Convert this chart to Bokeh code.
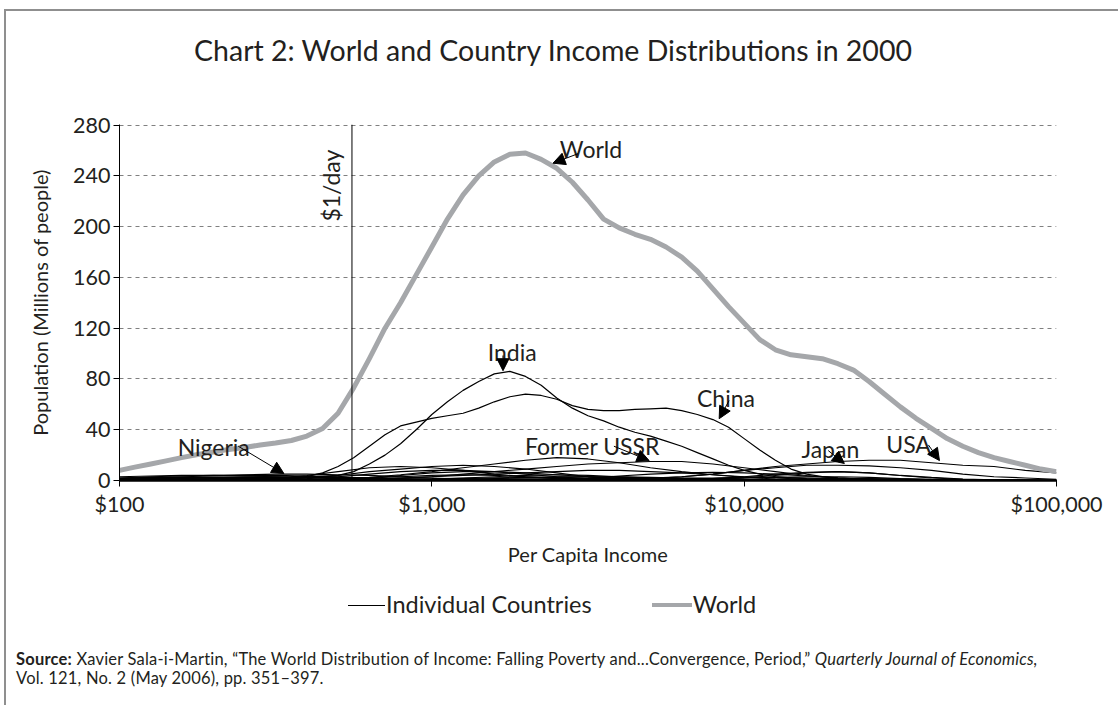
import math
from bokeh.plotting import figure
from bokeh.layouts import column
from bokeh.models import (FixedTicker, NumeralTickFormatter, Span, Label, Arrow,
                          NormalHead, Div)
from bokeh.embed import file_html
from bokeh.resources import INLINE

# ---------------- data ----------------
# fine income grid (used for the World, India and China curves)
income_fine = [100, 112, 126, 141, 158, 178, 200, 224, 251, 282, 316, 355, 398, 447,
               501, 562, 631, 708, 794, 891, 1000, 1122, 1259, 1413, 1585, 1778, 1995,
               2239, 2512, 2818, 3162, 3548, 3981, 4467, 5012, 5623, 6310, 7079, 7943,
               8913, 10000, 11220, 12589, 14125, 15849, 17783, 19953, 22387, 25119,
               28184, 31623, 35481, 39811, 44668, 50119, 56234, 63096, 70795, 79433,
               89125, 100000]
# coarse income grid (other countries)
income = [100, 126, 158, 200, 251, 316, 398, 501, 631, 794, 1000, 1259, 1585, 1995,
          2512, 3162, 3981, 5012, 6310, 7943, 10000, 12589, 15849, 19953, 25119,
          31623, 39811, 50119, 63096, 79433, 100000]

world = [8, 10.5, 13, 15.5, 18, 20.5, 22.5, 24.5, 26, 28, 29.5, 31.5, 35, 41, 53, 73,
         96, 120, 140, 162, 184, 206, 225, 240, 251, 257, 258, 253, 246, 235, 221,
         206, 199, 194, 190, 184, 176, 165, 151, 137, 124, 111, 103, 99, 97.5, 96, 92,
         87, 78, 68, 58, 49, 41, 33, 27, 22, 18, 15, 12, 9, 7]

india = [1, 1, 1, 1, 1, 1.2, 1.4, 1.6, 1.8, 2, 2.2, 2.5, 3, 3.5, 4, 7, 13, 20, 29, 40,
         52, 62, 71, 78, 84, 86, 82, 75, 65, 57, 51, 47, 42, 38, 35, 31, 27, 22, 17,
         12, 8, 5, 3, 2, 1.5, 1.2, 1, 0.8, 0.6, 0.5, 0.4, 0.3, 0.3, 0.2, 0.2, 0.2, 0.1,
         0.1, 0.1, 0.1, 0.1]
china = [1, 1, 1, 1, 1, 1.2, 1.4, 1.6, 1.8, 2, 2.2, 2.5, 3, 6, 11, 18, 27, 36, 43, 46,
         49, 51, 53, 57, 62, 66, 68, 67, 64, 59, 56, 55, 55, 56, 56.5, 57, 55, 52, 48,
         42, 33, 24, 16, 9, 5, 3, 2, 1.5, 1.2, 1, 0.8, 0.6, 0.5, 0.4, 0.3, 0.3, 0.2,
         0.2, 0.2, 0.1, 0.1]

indonesia = [0, 0, 0, 0, 0.1, 0.3, 0.6, 1.2, 2.5, 4.5, 7, 10, 13, 16, 18, 17, 14, 10,
             7, 4.5, 2.5, 1.2, 0.6, 0.3, 0.1, 0, 0, 0, 0, 0, 0]
former_ussr = [0, 0, 0, 0, 0, 0, 0.2, 0.5, 1, 2, 3, 5, 7, 9, 11, 13, 14, 15, 15, 13,
               10, 7, 4, 2, 1, 0.5, 0.2, 0, 0, 0, 0]
usa = [0, 0, 0, 0, 0, 0, 0, 0, 0, 0, 0, 0, 0, 0, 0, 0.5, 1, 2, 3, 5, 8, 11, 13, 15,
       16, 16, 14, 12, 11, 8, 6]
japan = [0, 0, 0, 0, 0, 0, 0, 0, 0, 0, 0, 0, 0, 0, 0, 0.3, 0.7, 1.5, 3, 5, 8, 10, 12,
         12, 11.5, 10, 8, 5, 3, 2, 1]
nigeria = [2, 3, 3.5, 4, 4.5, 5, 5, 4.5, 4, 3, 2, 1, 0.5, 0.2, 0, 0, 0, 0, 0, 0, 0,
           0, 0, 0, 0, 0, 0, 0, 0, 0, 0]
bangladesh = [0, 0, 0.2, 0.5, 1, 2, 4, 7, 10, 11, 10, 8, 5, 3, 1.5, 0.5, 0.2, 0, 0,
              0, 0, 0, 0, 0, 0, 0, 0, 0, 0, 0, 0]
pakistan = [0, 0, 0, 0.2, 0.5, 1, 2, 4, 7, 9, 11, 12, 11, 9, 6, 3, 1.5, 0.5, 0.2, 0,
            0, 0, 0, 0, 0, 0, 0, 0, 0, 0, 0]
congo = [3, 3.5, 4, 4, 3.5, 3, 2.5, 2, 1.5, 1, 0.5, 0.2, 0, 0, 0, 0, 0, 0, 0, 0, 0,
         0, 0, 0, 0, 0, 0, 0, 0, 0, 0]
ethiopia = [1.5, 2, 3, 3.5, 4, 4, 3.5, 3, 2, 1, 0.5, 0.2, 0, 0, 0, 0, 0, 0, 0, 0, 0,
            0, 0, 0, 0, 0, 0, 0, 0, 0, 0]
vietnam = [0, 0, 0, 0, 0.3, 0.8, 1.5, 3, 5, 7, 8, 8, 7, 5, 3, 1.5, 0.5, 0.2, 0, 0, 0,
           0, 0, 0, 0, 0, 0, 0, 0, 0, 0]
philippines = [0, 0, 0, 0, 0, 0.2, 0.5, 1, 2, 4, 6, 7, 7, 6, 4.5, 3, 1.5, 0.5, 0.2,
               0, 0, 0, 0, 0, 0, 0, 0, 0, 0, 0, 0]
brazil = [0, 0, 0, 0, 0, 0, 0.2, 0.5, 1, 2, 3, 4, 5, 6, 7, 8, 8, 7, 6, 4.5, 3, 2, 1,
          0.5, 0.2, 0, 0, 0, 0, 0, 0]
mexico = [0, 0, 0, 0, 0, 0, 0, 0, 0, 0, 0, 0, 0.2, 0.5, 1, 2, 3.5, 5, 6, 6.5, 6, 5,
          3.5, 2, 1, 0.5, 0.2, 0, 0, 0, 0]
germany = [0, 0, 0, 0, 0, 0, 0, 0, 0, 0, 0, 0, 0, 0, 0, 0, 0, 0, 0.5, 1, 2, 4, 6, 7,
           6, 4, 2, 1, 0.5, 0.2, 0]
uk_france = [0, 0, 0, 0, 0, 0, 0, 0, 0, 0, 0, 0, 0, 0, 0, 0, 0, 0.3, 0.8, 1.5, 3, 5,
             6.5, 7, 6, 4, 2.5, 1.2, 0.5, 0.2, 0.1]
egypt = [0, 0, 0, 0, 0, 0.2, 0.5, 1, 2, 3, 4, 4.5, 4, 3, 2, 1, 0.5, 0.2, 0, 0, 0, 0,
         0, 0, 0, 0, 0, 0, 0, 0, 0]
thailand = [0, 0, 0, 0, 0, 0, 0, 0, 0.2, 0.5, 1, 2, 3, 4, 4.5, 4, 3, 2, 1, 0.5, 0.2,
            0, 0, 0, 0, 0, 0, 0, 0, 0, 0]
kenya = [1, 1.5, 2, 2.5, 3, 3, 2.5, 2, 1.5, 1, 0.6, 0.3, 0.1, 0, 0, 0, 0, 0, 0, 0, 0,
         0, 0, 0, 0, 0, 0, 0, 0, 0, 0]
tanzania = [2, 2.5, 2.5, 2.5, 2, 1.5, 1, 0.6, 0.3, 0.1, 0, 0, 0, 0, 0, 0, 0, 0, 0, 0,
            0, 0, 0, 0, 0, 0, 0, 0, 0, 0, 0]
uganda = [1, 1.5, 2, 2, 2, 1.5, 1, 0.5, 0.2, 0, 0, 0, 0, 0, 0, 0, 0, 0, 0, 0, 0, 0,
          0, 0, 0, 0, 0, 0, 0, 0, 0]
myanmar = [0, 0.2, 0.5, 1, 1.5, 2, 2.5, 2.5, 2, 1.5, 1, 0.5, 0.2, 0, 0, 0, 0, 0, 0, 0,
           0, 0, 0, 0, 0, 0, 0, 0, 0, 0, 0]
sudan = [0.5, 1, 1.5, 2, 2.5, 2.5, 2, 1.5, 1, 0.6, 0.3, 0.1, 0, 0, 0, 0, 0, 0, 0, 0,
         0, 0, 0, 0, 0, 0, 0, 0, 0, 0, 0]
colombia = [0, 0, 0, 0, 0, 0, 0, 0, 0.2, 0.5, 1, 1.5, 2, 2.5, 3, 3, 2.5, 2, 1.5, 1,
            0.5, 0.2, 0, 0, 0, 0, 0, 0, 0, 0, 0]
south_africa = [0, 0, 0, 0, 0, 0, 0.3, 0.6, 1, 1.3, 1.5, 1.8, 2, 2, 2, 1.8, 1.5, 1.2,
                1, 0.8, 0.5, 0.3, 0.2, 0.1, 0, 0, 0, 0, 0, 0, 0]
iran = [0, 0, 0, 0, 0, 0, 0, 0, 0, 0.3, 0.6, 1, 1.5, 2, 2.5, 3, 3, 2.5, 2, 1.5, 1,
        0.5, 0.2, 0, 0, 0, 0, 0, 0, 0, 0]
korea = [0, 0, 0, 0, 0, 0, 0, 0, 0, 0, 0, 0, 0, 0, 0, 0.2, 0.5, 1, 1.5, 2, 2.5, 2.5,
         2, 1.5, 1, 0.5, 0.2, 0, 0, 0, 0]
italy_spain = [0, 0, 0, 0, 0, 0, 0, 0, 0, 0, 0, 0, 0, 0, 0, 0, 0, 0.2, 0.5, 1, 2, 2.5,
               3, 3, 2.5, 1.5, 0.8, 0.4, 0.2, 0.1, 0.05]
canada_aus = [0, 0, 0, 0, 0, 0, 0, 0, 0, 0, 0, 0, 0, 0, 0, 0, 0, 0, 0, 0.2, 0.4, 0.8,
              1.2, 1.5, 1.5, 1.3, 1, 0.8, 0.6, 0.5, 0.4]
argentina = [0, 0, 0, 0, 0, 0, 0, 0, 0, 0, 0.2, 0.5, 0.8, 1, 1.3, 1.5, 1.5, 1.3, 1,
             0.8, 0.5, 0.3, 0.2, 0.1, 0, 0, 0, 0, 0, 0, 0]
poland = [0, 0, 0, 0, 0, 0, 0, 0, 0, 0, 0, 0, 0.2, 0.5, 1, 1.5, 2, 2, 1.8, 1.5, 1,
          0.6, 0.3, 0.1, 0, 0, 0, 0, 0, 0, 0]

big_countries = [india, china]
small_countries = [indonesia, former_ussr, usa, japan, nigeria, bangladesh, pakistan,
                   congo, ethiopia, vietnam, philippines, brazil, mexico, germany,
                   uk_france, egypt, thailand, kenya, tanzania, uganda, myanmar, sudan,
                   colombia, south_africa, iran, korea, italy_spain, canada_aus,
                   argentina, poland]

y_ticks = [0, 40, 80, 120, 160, 200, 240, 280]
x_ticks = [100, 1000, 10000, 100000]
one_dollar_day = 555
chart_title = "Chart 2: World and Country Income Distributions in 2000"
legend_labels = ["Individual Countries", "World"]

# callouts: (label, text x, text baseline y, arrow start x, y, arrow end x, y)
callouts = [
    ("World", 2570, 261, 2938, 257.5, 2443, 250),
    ("India", 1510, 101, 1690, 98.5, 1690, 86.5),
    ("China", 7063, 65.3, 8950, 63, 8318, 48.7),
    ("Former USSR", 1986, 27.5, 3828, 27, 4962, 15.7),
    ("Japan", 15250, 24.5, 18580, 23.6, 20930, 13.4),
    ("USA", 28500, 29.1, 38900, 28, 42200, 15.7),
    ("Nigeria", 153.5, 26.7, 240, 27, 336, 5.5),
]

FONT = "Lato"
INK = "#231f20"
GREY = "#a5a7aa"

# title (HTML block above the plot)
title_div = Div(text=chart_title, width=1106, height=100, margin=0,
                styles={"font-family": FONT, "font-size": "28.5px", "color": INK,
                        "line-height": "34px", "padding-top": "33px",
                        "text-align": "center", "white-space": "nowrap"})

p = figure(width=1118, height=480, x_axis_type="log", x_range=(100, 100000),
           y_range=(0, 280.5), output_backend="svg", toolbar_location=None,
           min_border_left=119, min_border_right=62, min_border_top=24,
           min_border_bottom=100)
p.outline_line_color = None
p.background_fill_color = None
p.border_fill_color = None

# grid
p.xgrid.grid_line_color = None
p.ygrid.ticker = FixedTicker(ticks=y_ticks[1:])
p.ygrid.grid_line_color = "#808080"
p.ygrid.grid_line_dash = "4 4"
p.ygrid.grid_line_width = 1

# axes
for ax in (p.xaxis[0], p.yaxis[0]):
    ax.axis_line_color = "black"
    ax.axis_line_width = 1
    ax.major_tick_line_color = "black"
    ax.major_tick_in = 0
    ax.major_tick_out = 6
    ax.minor_tick_line_color = None
    ax.major_label_text_font = FONT
    ax.major_label_text_font_size = "21.5px"
    ax.major_label_text_color = INK
    ax.axis_label_text_font = FONT
    ax.axis_label_text_font_size = "20px"
    ax.axis_label_text_font_style = "normal"
    ax.axis_label_text_color = INK

p.xaxis.axis_line_width = 2.5
p.xaxis.ticker = FixedTicker(ticks=x_ticks)
p.xaxis.formatter = NumeralTickFormatter(format="$0,0")
p.xaxis.major_label_standoff = 4
p.xaxis.axis_label = "Per Capita Income"
p.xaxis.axis_label_standoff = 22

p.yaxis.ticker = FixedTicker(ticks=y_ticks)
p.yaxis.major_label_standoff = 3
p.yaxis.axis_label = "Population (Millions of people)"
p.yaxis.axis_label_standoff = 18

# country curves
p.multi_line(xs=[income] * len(small_countries), ys=small_countries,
             line_color="black", line_width=1.1)
p.multi_line(xs=[income_fine] * len(big_countries), ys=big_countries,
             line_color="black", line_width=1.2)
# world curve
p.line(income_fine, world, line_color=GREY, line_width=5, line_join="round")

# $1/day
p.add_layout(Span(location=one_dollar_day, dimension="height", line_color="black",
                  line_width=1))
p.add_layout(Label(x=one_dollar_day, y=204, text="$1/day", angle=math.pi / 2,
                   text_align="left", text_baseline="bottom", x_offset=-7,
                   text_font=FONT, text_font_size="23px", text_color=INK))

for name, tx, ty, ax0, ay0, ax1, ay1 in callouts:
    p.add_layout(Label(x=tx, y=ty, text=name, text_font=FONT, text_font_size="23px",
                       text_color=INK, text_baseline="alphabetic"))
    p.add_layout(Arrow(end=NormalHead(size=12, fill_color="black", line_color="black",
                                      line_width=1),
                       x_start=ax0, y_start=ay0, x_end=ax1, y_end=ay1,
                       line_color="black", line_width=1))

# legend + source note (HTML below the figure)
legend_html = (
    "<div style='display:flex;align-items:center;height:28px;margin-top:11px;"
    "margin-left:348px;font-size:23.5px;white-space:nowrap'>"
    "<span style='display:inline-block;width:37px;border-top:1.5px solid #000;"
    "margin-right:1px'></span>"
    f"<span>{legend_labels[0]}</span>"
    f"<span style='display:inline-block;width:40px;border-top:4px solid {GREY};"
    "margin-left:60px;margin-right:1px'></span>"
    f"<span>{legend_labels[1]}</span></div>"
)
source_html = (
    "<div style='margin-top:31px;margin-left:16px;font-size:16.5px;line-height:19px;"
    "letter-spacing:0.2px;white-space:nowrap'>"
    "<b style='font-weight:700'>Source:</b> Xavier Sala-i-Martin, "
    "\u201cThe World Distribution of Income: Falling Poverty and...Convergence, "
    "Period,\u201d <i>Quarterly Journal of Economics,</i><br>"
    "Vol. 121, No. 2 (May 2006), pp. 351\u2013397.</div>"
)
notes = Div(text=legend_html + source_html, width=1100, height=125, margin=0,
            styles={"font-family": FONT, "color": INK})

layout = column(title_div, p, notes, spacing=0,
                styles={"box-shadow": "inset 4px 9px 0 0 #ffffff, inset 6px 11px 0 0 #8f8f8f",
                        "background": "#ffffff"})

open("out.html", "w").write(file_html(layout, INLINE))
